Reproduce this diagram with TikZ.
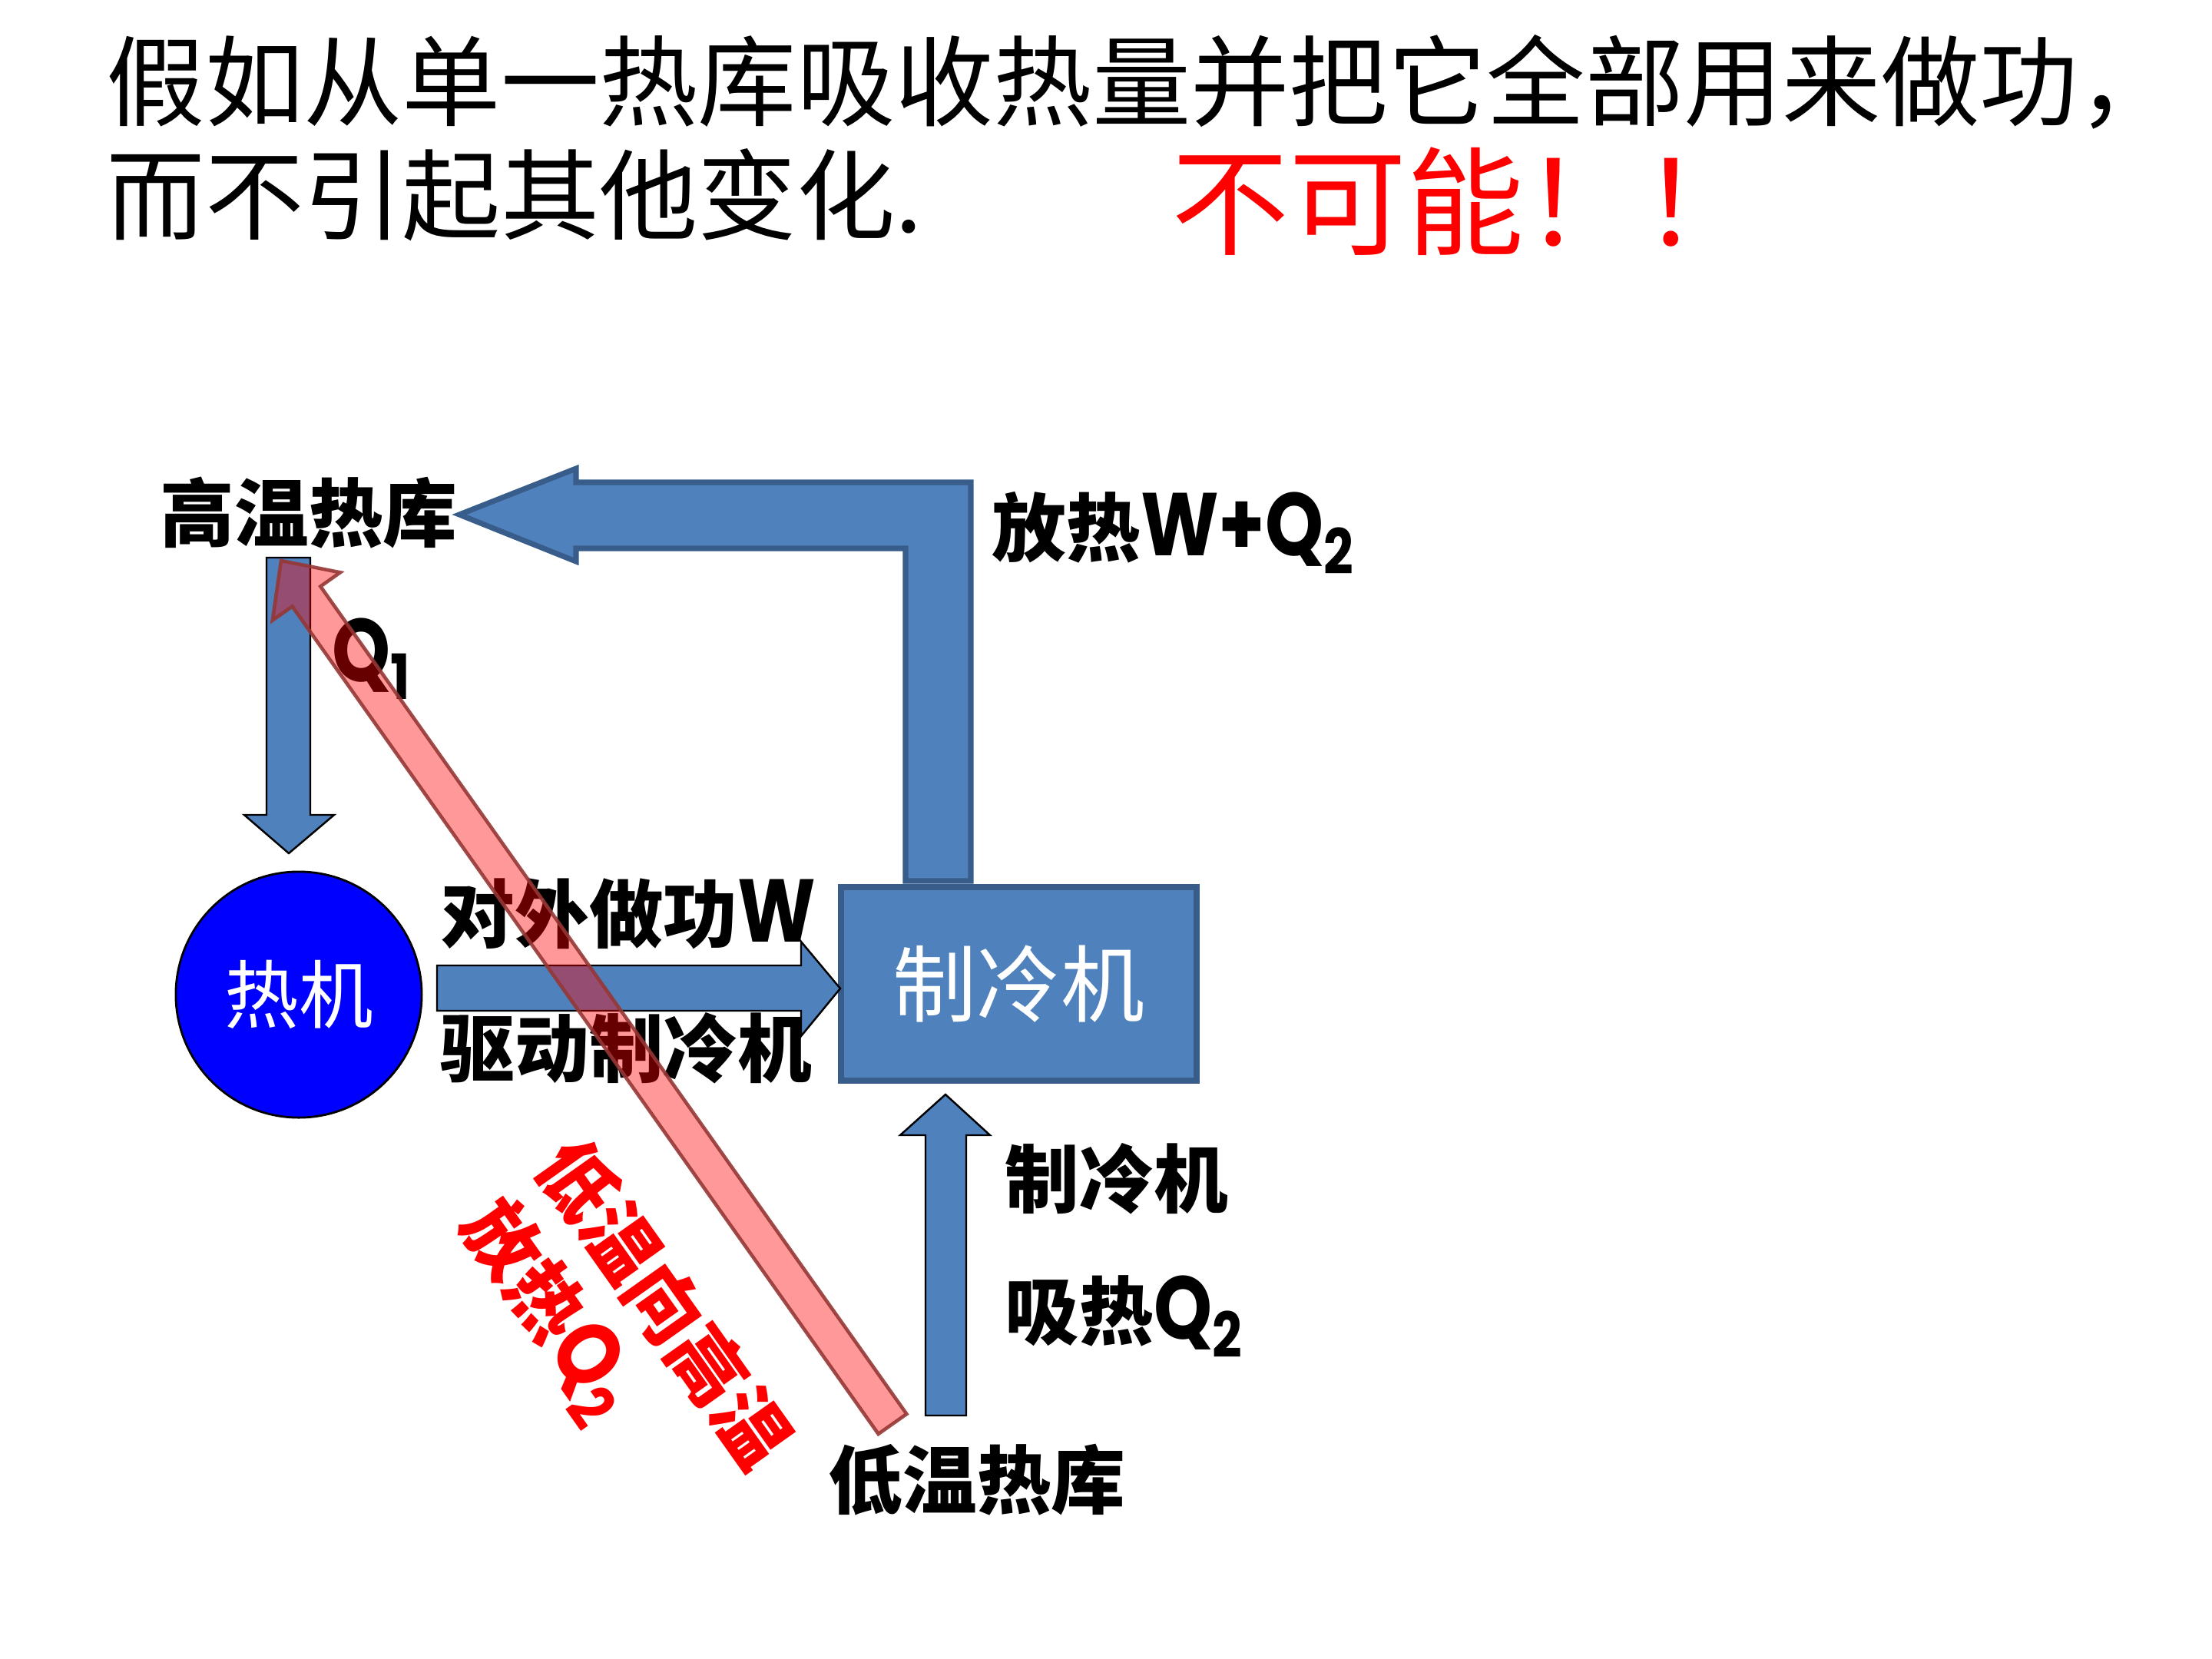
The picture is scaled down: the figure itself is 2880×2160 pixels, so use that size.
\documentclass[tikz,border=0pt]{standalone}
\usepackage{fontspec}
\usepackage{graphicx}
\setmainfont{Noto Sans CJK SC}
\newfontfamily\lat{Poppins}
\definecolor{blk}{HTML}{4F81BD}
\definecolor{blkb}{HTML}{385D8A}
\definecolor{redb}{HTML}{953735}
\newcommand\La[1]{{\lat\scalebox{1}[1.2]{#1}}}
\newcommand\Qs[1]{{\lat\scalebox{1}[1.2]{Q\textsubscript{#1}}}}
\begin{document}
\begin{tikzpicture}[x=0.01cm,y=-0.01cm,
  ttl/.style={font=\fontsize{36.5}{40}\selectfont, anchor=base west, inner sep=0pt},
  lab/.style={font=\fontsize{27.5}{30}\selectfont\bfseries, anchor=base west, inner sep=0pt},
  rlab/.style={font=\fontsize{28}{30}\selectfont\bfseries, text=red, inner sep=0pt, rotate=-54.7},
  thinarrow/.style={fill=blk, draw=black, line width=0.7pt, line join=miter},
  bigarrow/.style={fill=blk, draw=blkb, line width=2pt, line join=miter},
  redarrow/.style={fill=red, fill opacity=0.4, draw=redb, draw opacity=0.9, line width=1.3pt, line join=miter}]
\useasboundingbox (0,0) rectangle (2880,2160);

% title
\node[ttl] (t1) at (138,154) {假如从单一热库吸收热量并把它全部用来做功，};
\node[ttl] (t2) at (138,302) {而不引起其他变化.};
\node[ttl, font=\fontsize{43.5}{46}\selectfont, text=red] (t3) at (1525,320) {不可能！！};

% main nodes
\node[lab] (hot) at (208,704) {高温热库};
\node[lab] (cold) at (1078,1963) {低温热库};
\node[circle, fill=blue, draw=black, line width=0.8pt, minimum size=3.2cm, inner sep=0pt,
      font=\fontsize{27.5}{30}\selectfont, text=white] (eng) at (389,1295) {热机};
\node[rectangle, fill=blk, draw=blkb, line width=2.3pt, minimum width=4.63cm, minimum height=2.52cm, inner sep=0pt,
      font=\fontsize{31}{34}\selectfont, text=white] (fr) at (1326.5,1281) {制冷机};

% arrows
\draw[bigarrow] (1179,1147) -- (1264,1147) -- (1264,628) -- (750,628) -- (750,610) -- (598,670) -- (750,731) -- (750,714) -- (1179,714) -- cycle;
\draw[thinarrow] (347,726) -- (404,726) -- (404,1061) -- (435,1061) -- (376,1111) -- (318,1061) -- (347,1061) -- cycle;
\draw[thinarrow] (569,1257) -- (1043,1257) -- (1043,1226) -- (1094,1287) -- (1043,1349) -- (1043,1316) -- (569,1316) -- cycle;
\draw[thinarrow] (1205,1843) -- (1258,1843) -- (1258,1478) -- (1289,1478) -- (1231,1425) -- (1172,1478) -- (1205,1478) -- cycle;

% labels
\node[lab] (lq1) at (432,887) {\Qs{1}};
\node[lab] (lw) at (1291,723) {放热\La{W+}\Qs{2}};
\node[lab] (lwork) at (573,1226) {对外做功\La{W}};
\node[lab] (ldrive) at (573,1401) {驱动制冷机};
\node[lab] (lfr) at (1308,1571) {制冷机};
\node[lab] (lq2) at (1308,1743) {吸热\Qs{2}};
\node[rlab] (r1) at (866,1697) {低温向高温};
\node[rlab] (r2) at (712,1706) {放热\Qs{2}};

% red transparent arrow (from cold to hot reservoir)
\draw[redarrow] (1180.4,1841.0) -- (417.3,763.5) -- (443.0,745.3) -- (366,730) -- (354.8,807.7) -- (380.5,789.5) -- (1143.6,1867.0) -- cycle;
\end{tikzpicture}
\end{document}
